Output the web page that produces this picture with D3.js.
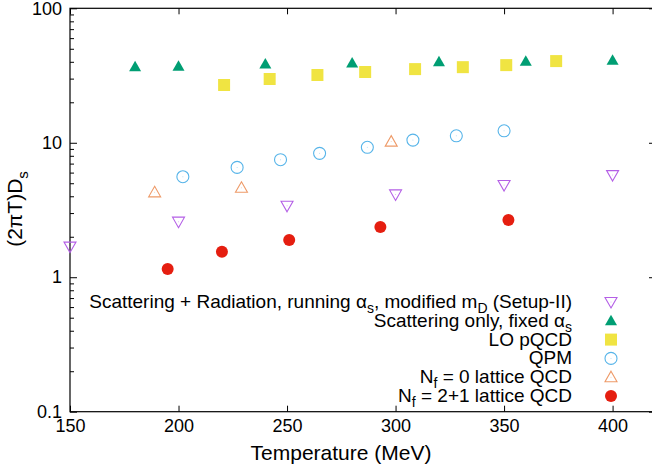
<!DOCTYPE html>
<html>
<head>
<meta charset="utf-8">
<script src="https://cdn.jsdelivr.net/npm/d3@7"></script>
<style>
  body { margin: 0; background: white; }
  text { font-family: "Liberation Sans", Arial, Helvetica, sans-serif; }
</style>
</head>
<body>
<script>
// data
const tempSetup2 = [150, 200, 250, 300, 350, 400];
const dsSetup2 = [1.69, 2.59, 3.40, 4.13, 4.85, 5.75];

const tempScatOnly = [180, 200, 240, 280, 320, 360, 400];
const dsScatOnly = [36.7, 37.0, 38.5, 39.2, 40.0, 40.4, 41.0];

const tempLO = [221, 242, 264, 286, 309, 331, 351, 374];
const dsLO = [26.9, 29.8, 31.9, 33.6, 35.3, 36.5, 37.8, 40.5];

const tempQPM = [202, 227, 247, 265, 287, 308, 328, 350];
const dsQPM = [5.59, 6.56, 7.48, 8.34, 9.25, 10.47, 11.27, 12.28];

const tempNf0 = [189, 229, 298];
const dsNf0 = [4.28, 4.63, 10.2];

const tempNf21 = [195, 220, 251, 293, 352];
const dsNf21 = [1.15, 1.55, 1.89, 2.36, 2.66];

const xTicks = [150, 200, 250, 300, 350, 400];
const yTicks = [0.1, 1, 10, 100];
const yTickLabels = ["0.1", "1", "10", "100"];

// label pieces: [text, "sub" | ""]
const legendLabels = [
    [["Scattering + Radiation, running ", ""], ["\u03b1", ""], ["s", "sub"], [", modified m", ""], ["D", "sub"], [" (Setup-II)", ""]],
    [["Scattering only, fixed ", ""], ["\u03b1", ""], ["s", "sub"]],
    [["LO pQCD", ""]],
    [["QPM", ""]],
    [["N", ""], ["f", "sub"], [" = 0 lattice QCD", ""]],
    [["N", ""], ["f", "sub"], [" = 2+1 lattice QCD", ""]]
];

const series = [
    { t: tempSetup2, v: dsSetup2, shape: "tridown", color: "#b45fe6", fill: false },
    { t: tempScatOnly, v: dsScatOnly, shape: "triup", color: "#009e73", fill: true },
    { t: tempLO, v: dsLO, shape: "square", color: "#f0e442", fill: true },
    { t: tempQPM, v: dsQPM, shape: "circle", color: "#56b4e9", fill: false },
    { t: tempNf0, v: dsNf0, shape: "triup", color: "#ee9a68", fill: false },
    { t: tempNf21, v: dsNf21, shape: "circle", color: "#e51e10", fill: true }
];

const wSvg = 652;
const hSvg = 471;
const pLeft = 70, pRight = 656, pTop = 8.3, pBottom = 411.7;

const x = d3.scaleLinear([150, 420], [pLeft, pRight]);
const y = d3.scaleLog([0.1, 100], [pBottom, pTop]);

const svg = d3.select("body")
    .append("svg")
    .attr("width", wSvg)
    .attr("height", hSvg);

function markerPath(shape) {
    if (shape === "triup") return "M0,-6L6,4.5L-6,4.5Z";
    if (shape === "tridown") return "M0,6L6,-4.5L-6,-4.5Z";
    if (shape === "square") return "M-6,-6H6V6H-6Z";
    return d3.symbol(d3.symbolCircle, Math.PI * 36)();
}

function drawMarker(g, s, cx, cy) {
    let m = g.append("path")
        .attr("transform", `translate(${cx},${cy})`)
        .attr("d", markerPath(s.shape));
    if (s.fill) {
        m.attr("fill", s.color).attr("stroke", "none");
    } else {
        m.attr("fill", "none").attr("stroke", s.color).attr("stroke-width", 1.1);
        g.append("circle").attr("cx", cx).attr("cy", cy).attr("r", 0.5)
            .attr("fill", s.color).attr("opacity", 0.5);
    }
}

// axes with inward ticks
const minorY = [];
for (let d of [0.1, 1, 10]) {
    for (let k = 2; k <= 9; k++) minorY.push(d * k);
}

const axisFont = 18;

svg.append("g")
    .attr("transform", `translate(0,${pBottom})`)
    .call(d3.axisBottom(x).tickValues(xTicks).tickSizeInner(-6).tickSizeOuter(0).tickPadding(8));
svg.append("g")
    .attr("transform", `translate(0,${pTop})`)
    .call(d3.axisTop(x).tickValues(xTicks).tickSizeInner(-6).tickSizeOuter(0).tickFormat(""));
svg.append("g")
    .attr("transform", `translate(${pLeft},0)`)
    .call(d3.axisLeft(y).tickValues(yTicks).tickSizeInner(-7).tickSizeOuter(0).tickPadding(8)
        .tickFormat((d, i) => yTickLabels[i]));
svg.append("g")
    .attr("transform", `translate(${pLeft},0)`)
    .call(d3.axisLeft(y).tickValues(minorY).tickSizeInner(-4).tickSizeOuter(0).tickFormat(""));
svg.append("g")
    .attr("transform", `translate(${pRight},0)`)
    .call(d3.axisRight(y).tickValues(yTicks).tickSizeInner(-7).tickSizeOuter(0).tickFormat(""));
svg.append("g")
    .attr("transform", `translate(${pRight},0)`)
    .call(d3.axisRight(y).tickValues(minorY).tickSizeInner(-4).tickSizeOuter(0).tickFormat(""));

svg.selectAll(".domain").remove();
svg.selectAll(".tick line").attr("stroke", "black").attr("stroke-width", 1);
svg.selectAll(".tick text")
    .attr("fill", "black")
    .style("font-size", axisFont + "px");

svg.append("rect")
    .attr("x", pLeft)
    .attr("y", pTop)
    .attr("width", pRight - pLeft)
    .attr("height", pBottom - pTop)
    .attr("fill", "none")
    .attr("stroke", "black")
    .attr("stroke-width", 1.2);

// axis titles
svg.append("text")
    .attr("x", 341)
    .attr("y", 460)
    .attr("text-anchor", "middle")
    .style("font-size", "21px")
    .text("Temperature (MeV)");

let ylab = svg.append("text")
    .attr("transform", "translate(22,209) rotate(-90)")
    .attr("text-anchor", "middle")
    .style("font-size", "21px");
ylab.append("tspan").text("(2\u03c0T)D");
ylab.append("tspan").attr("dy", 6).style("font-size", "15px").text("s");

// points
series.forEach(s => {
    let g = svg.append("g");
    s.t.forEach((t, i) => drawMarker(g, s, x(t), y(s.v[i])));
});

// legend
const legendX = 572;
const markerX = 611;
const legendY0 = 302;
const legendStep = 18.8;
const legendFont = 19;

legendLabels.forEach((parts, i) => {
    let yy = legendY0 + i * legendStep;
    let txt = svg.append("text")
        .attr("x", legendX)
        .attr("y", yy + 6)
        .attr("text-anchor", "end")
        .style("font-size", legendFont + "px");
    let shifted = false;
    parts.forEach(p => {
        let ts = txt.append("tspan").text(p[0]);
        if (p[1] === "sub") {
            ts.attr("dy", 5).style("font-size", "14px");
            shifted = true;
        } else if (shifted) {
            ts.attr("dy", -5);
            shifted = false;
        }
    });
    let g = svg.append("g");
    drawMarker(g, series[i], markerX, yy);
});
</script>
</body>
</html>
